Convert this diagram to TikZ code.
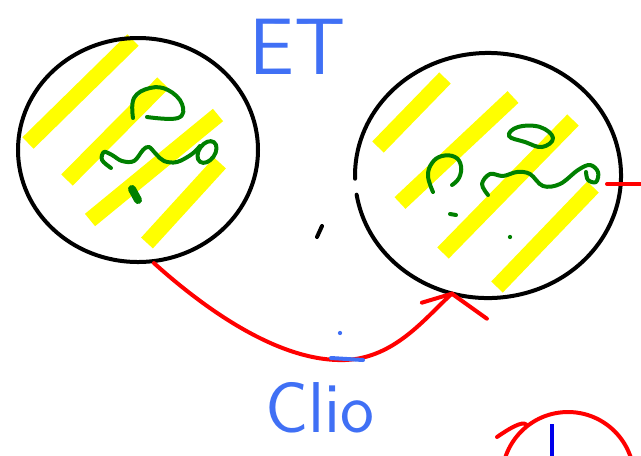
\documentclass[tikz,border=0pt]{standalone}
\usetikzlibrary{shapes.geometric}
\definecolor{hlyellow}{RGB}{255,255,0}
\definecolor{inkgreen}{RGB}{0,128,0}
\definecolor{inkblue}{RGB}{64,112,245}
\definecolor{inkred}{RGB}{255,0,0}
\definecolor{deepblue}{RGB}{0,0,235}
\begin{document}
\begin{tikzpicture}[x=0.75pt,y=-0.75pt,
  stripe/.style={hlyellow, line width=12pt},
  blob/.style={ellipse, draw=black, line width=3pt, inner sep=0pt},
  ghost/.style={ellipse, inner sep=0pt},
  outline/.style={black, line width=3pt, line cap=round},
  scrib/.style={inkgreen, line width=3pt, line cap=round, line join=round},
  redink/.style={inkred, line width=3pt, line cap=round, line join=round},
  blueink/.style={inkblue, line width=3pt, line cap=round},
  hand/.style={inkblue, inner sep=0pt, font=\fontsize{60}{60}\selectfont\sffamily}
]
\useasboundingbox (0,0) rectangle (641,455);
\clip (0,0) rectangle (641,455);

% yellow highlight stripes, left circle
\draw[stripe] (28,143) -- (133,40);
\draw[stripe] (67,180) -- (163,83);
\draw[stripe] (90,220) -- (218,115);
\draw[stripe] (147,243) -- (220,163);
% yellow highlight stripes, right circle
\draw[stripe] (378,147) -- (445,78);
\draw[stripe] (400,203) -- (513,97);
\draw[stripe] (443,253) -- (573,120);
\draw[stripe] (497,287) -- (593,187);

% circles
\node[blob, minimum width=180pt, minimum height=168pt] (L) at (138,150) {};
\node[ghost, minimum width=199.5pt, minimum height=183.75pt] (R) at (488,175.5) {};
\draw[outline] (R.center) ++(189:99.75pt and 91.9pt)
  arc[start angle=189, end angle=541.5, x radius=99.75pt, y radius=91.9pt];

% green scribbles, left circle
\draw[scrib] plot[smooth, tension=0.7] coordinates {(133,118) (134,98) (150,88) (168,90) (182,104) (178,118) (147,117)};
\draw[scrib] plot[smooth, tension=0.6] coordinates {(111,168) (102,160) (104,152) (112,155) (122,161) (134,161) (143,150) (149,147) (156,154) (164,161) (177,162) (192,154) (200,146)};
\draw[scrib, rotate around={-35:(207,152)}] (207,152) ellipse[x radius=8, y radius=12];
\draw[inkgreen, line width=6pt, line cap=round] (132,189) -- (138,200);

% green scribbles, right circle
\draw[scrib] plot[smooth, tension=0.7] coordinates {(433,192) (428,176) (432,163) (442,156) (455,157) (461,166) (459,178) (452,185)};
\draw[scrib] plot[smooth cycle, tension=0.7] coordinates {(509,136) (518,127) (540,127) (553,138) (542,147) (525,142)};
\draw[scrib] plot[smooth, tension=0.6] coordinates {(488,195) (482,184) (490,174) (503,176) (517,172) (530,174) (543,186) (560,184) (578,170) (590,165) (598,172) (596,182) (588,180) (586,172)};
\draw[scrib] (450,214) -- (456,215);
\fill[inkgreen] (510,237) circle[radius=1.6pt];

% red connector with open arrow head
\coordinate (tip) at (R.253);
\draw[redink] (L.278) .. controls (215,318) and (285,362) .. (345,360)
  .. controls (395,358) and (425,318) .. (tip);
\draw[redink] (tip) -- ++(-30,9);
\draw[redink] (tip) -- ++(35,25);

% red stub on the right
\coordinate (rs) at (607,184);
\coordinate (re) at (645,184);
\draw[redink] (rs) -- (re);

% black tick
\draw[outline] (322,226) -- (317,237);

% blue marks near the connector
\fill[inkblue] (340,333) circle[radius=1.6pt];
\draw[blueink] (331,358) -- (363,360);

% texts
\node[hand, anchor=base] (ET) at (298,74) {ET};
\node[hand, anchor=base, font=\fontsize{54}{54}\selectfont\sffamily] (clio) at (320,432) {Clio};

% bottom-right partial circle
\node[circle, draw=inkred, line width=3pt, minimum size=99pt, inner sep=0pt] (C3) at (568,478) {};
\draw[redink] (497,437) .. controls (510,428) and (522,421) .. (C3.128);
\coordinate (bl) at (552,424);
\coordinate (bb) at (552,462);
\draw[deepblue, line width=3pt] (bl) -- (bb);
\end{tikzpicture}
\end{document}
